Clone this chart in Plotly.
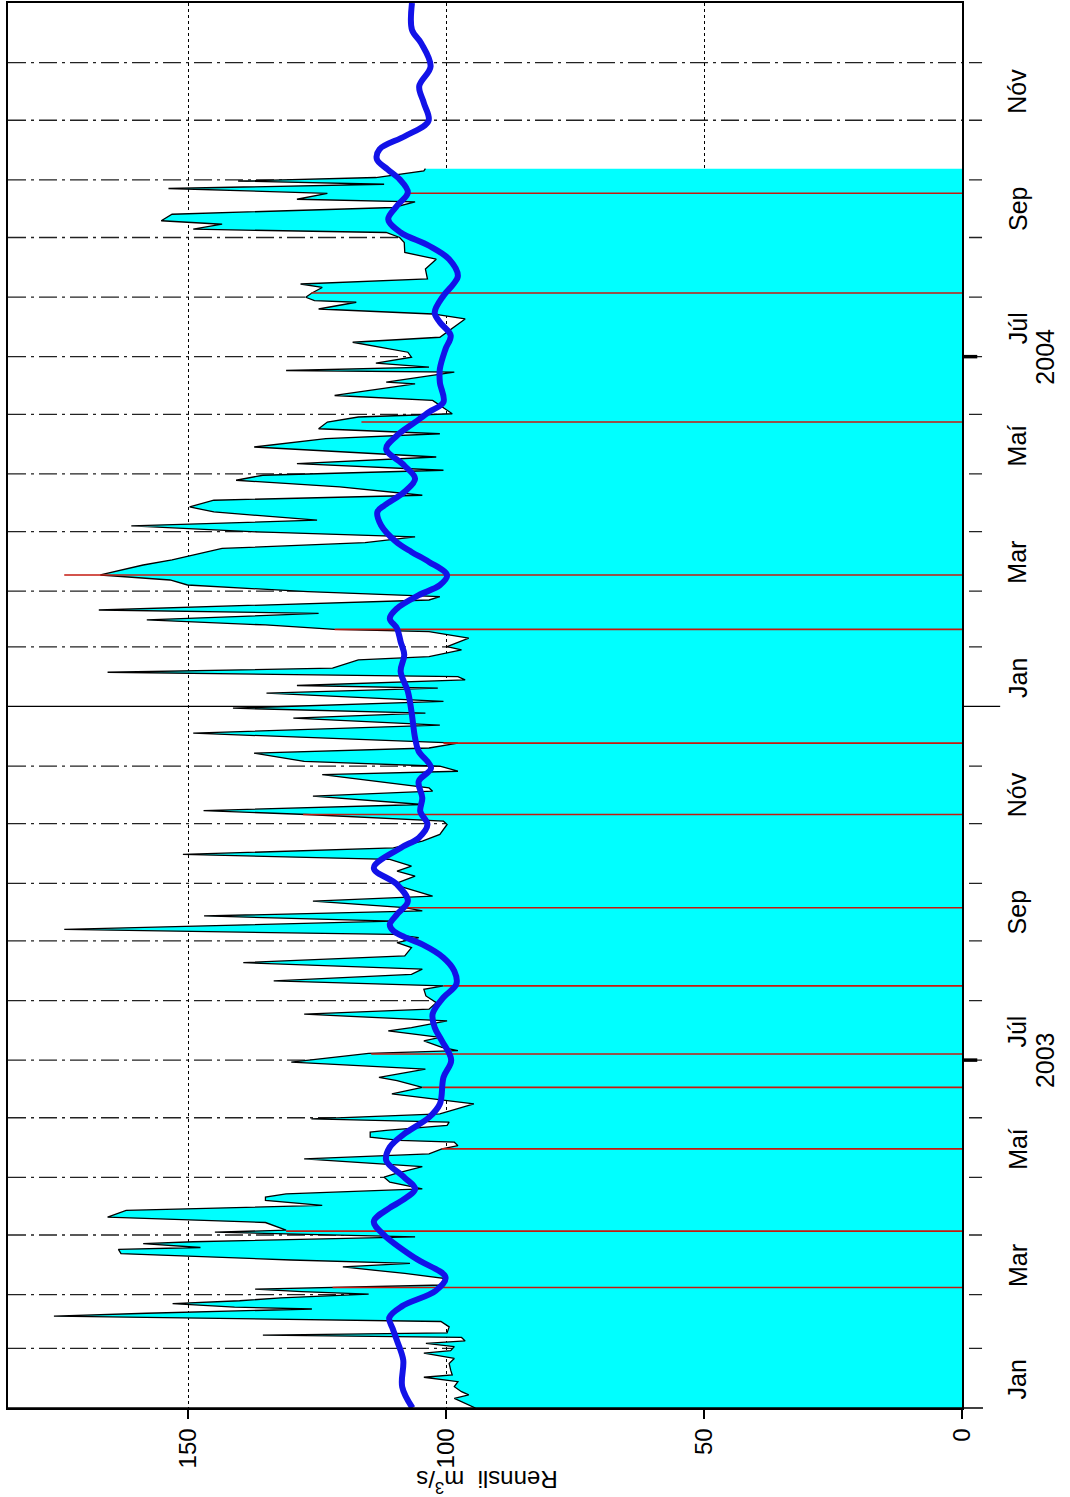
import pandas as pd
import plotly.graph_objects as go

START = pd.Timestamp("2003-01-01")
END = pd.Timestamp("2005-01-01")

# Daily discharge (m3/s): day offset from 2003-01-01 and value at each vertex
flow_day = [0, 2.4, 5, 6.8, 8.5, 11.1, 13.7, 16, 17.2, 19.7, 23.2, 25.8, 28.5, 29.8, 31.9, 33.6,
            34.9, 36.7, 37.9, 39.1, 42.2, 45, 47.8, 49.3, 50.5, 51.5, 52.5, 54.3, 55.8, 57.3, 59.2,
            60.5, 61.8, 62.7, 64, 67.5, 70, 73.4, 75.2, 77, 80.3, 82.5, 83.5, 85.5, 86.5, 89, 91.5,
            92.5, 95, 96.5, 99.3, 102.8, 105.4, 108, 109.7, 111.4, 114, 117.5, 120.1, 121.8, 125.6,
            129.6, 132.2, 134.8, 136.5, 138.3, 139.2, 140.9, 143.5, 144.4, 147, 148.7, 150.4, 153,
            158.2, 160, 163.4, 166.8, 170.3, 172, 176.3, 180, 184.5, 185.9, 187.6, 191, 192.8,
            196.2, 197.9, 201.4, 204.9, 207.5, 210.9, 214.4, 217.8, 219.6, 222.2, 225.6, 228.3,
            231.7, 235.2, 239.5, 242.1, 244.7, 246.4, 249, 253.3, 256, 258.6, 260.3, 263.7, 266.3,
            268.9, 272.4, 276.7, 279.3, 281.9, 285.4, 288, 291.4, 294.9, 298.4, 303.6, 305.3,
            308.8, 310.8, 314, 318.3, 320.9, 322.6, 329.5, 331.3, 333.9, 336.4, 340.7, 343.4,
            345.9, 351.1, 355.3, 358.9, 361.5, 364.1, 367.6, 371.9, 374.5, 375.9, 378.8, 380.5,
            382.8, 384.9, 389.2, 390.9, 394.4, 396.1, 400.5, 403.9, 405.1, 407.4, 410, 413.4,
            415.2, 420.4, 422.1, 424.7, 428.2, 430.8, 433.4, 438.6, 441.3, 444, 447.2, 450.2,
            453.2, 455.8, 459, 461.9, 466.2, 468.8, 472.3, 474.9, 479.2, 482.7, 485.3, 487.9,
            491.3, 494.8, 500, 504.3, 506.9, 509.5, 513, 515.6, 517.3, 524.2, 526.8, 532.8,
            533.7, 538.9, 539.8, 541.5, 543.6, 546.7, 549.3, 554.5, 557.1, 566.6, 569.2, 571.8,
            575.3, 576.1, 577.9, 580.1, 583, 584.8, 587.4, 592.6, 597.7, 601.2, 606.4, 609,
            611.6, 613.3, 615.9, 617.7, 621.1, 624.6, 627.5, 628.9, 632, 634.5, 636.7, 638.4,
            640.2, 643.6, 644.8]
flow_val = [94.3, 96.3, 98.4, 95.6, 97, 98.4, 97.7, 104.3, 98.8, 99.1, 99.4, 98.4, 104.3, 99.1, 98.4, 103.9,
            96.3, 97, 135.5, 99.8, 99.4, 101, 176, 158, 142, 126, 141, 153, 140, 132, 115,
            128, 137, 121, 100.5, 100.5, 108, 120, 107, 130, 163, 163.5, 147.6, 158.7, 149, 106, 144.8,
            131, 133.7, 135, 165.6, 162, 124, 135, 135, 131, 104.6, 110.9, 112, 110, 104.6,
            127.5, 103.3, 100.8, 97.7, 98.4, 109, 114.7, 114.7, 111.6, 99.8, 99.4, 126.1, 101.2,
            94.6, 100.5, 110.5, 104.6, 109.5, 113, 104, 130, 115, 97.7, 100.8, 104.3, 101.2,
            111.2, 106.7, 99.8, 127.5, 103.3, 101.9, 103.9, 104.3, 100.5, 133.4, 106.7, 104.6,
            139.3, 108, 106.7, 109.5, 105.3, 110.2, 174, 110.2, 146.9, 104.6, 108, 125.8, 102.6,
            106, 110.2, 106, 109.5, 106.7, 110.9, 151, 110.2, 104.6, 101.2, 99.8, 100.5,
            127, 147, 104.6, 125.8, 102.6, 103.3, 124, 97.7, 101.2, 127.5, 137.2, 103.3,
            97.7, 149, 101.2, 129.6, 104, 141.3, 100.5, 134.8, 101.6, 128.9, 96.3, 97.7,
            165.6, 122, 117, 103.3, 97, 99.8, 95.6, 103.3, 121.6, 135, 158, 124.7,
            167.3, 103.3, 101.2, 126.8, 150.1, 153.5, 167, 158.7, 153.1, 148.5, 143.4, 115.7,
            106, 136.5, 161, 125, 145, 149.7, 145, 104.6, 120.6, 140.7, 135.5, 100.5,
            128.9, 101.9, 137.2, 123.3, 101.2, 124.7, 123, 117, 98.8, 102.6, 121.6, 106,
            111.6, 98.4, 131, 103.3, 113.6, 106.7, 107.4, 118.1, 101.2, 96.3, 102.6, 124.7,
            117.4, 125.5, 127.2, 126, 124, 128.2, 103.6, 104, 101.9, 108, 108.1, 109,
            111.6, 149, 143.4, 155.2, 153.1, 110.2, 106, 128.9, 123, 153.8, 112, 140.3,
            113.6, 104.3, 104]

# Smoothed discharge
smooth_day = [0, 11, 25, 35, 41, 47, 53, 61, 68, 78, 90, 97, 104, 108, 114, 120, 128.8, 135.7,
              142.6, 151.2, 158.2, 172, 181, 191, 198, 205, 213.6, 220.5, 227.4, 234.3, 241.2,
              245, 248.2, 251.6, 256.8, 263.7, 272.4, 281, 291.4, 296.6, 303.6, 310.4, 317.4,
              326, 333, 341.6, 348.5, 362.4, 372.8, 383.2, 391.8, 398.7, 405.6, 410.8, 416,
              422.9, 428.1, 433.3, 440.2, 445.4, 451, 459.3, 466.2, 469.7, 476.6, 483.5, 490.4,
              499, 506, 512.9, 518.2, 523.3, 533.7, 540.6, 551, 558, 564.9, 570, 578.7, 585,
              589.1, 597.7, 604.7, 611.6, 618.5, 625.5, 632.4, 639.3, 644.4, 649.6, 654.9,
              661.8, 669.6, 679, 687.7, 698, 710, 717, 731]
smooth_val = [106.5, 108.5, 108.3, 109.5, 110.3, 111, 108.5, 102, 100.1, 106, 112, 114, 111, 108.5,
              106, 108.1, 111.6, 110.9, 108.1, 103.3, 101.2, 100.5, 99, 100.8, 102.2, 102.6,
              100.5, 98, 98.4, 100.5, 104.6, 108, 110.2, 110.9, 109.5, 107.4, 109.5, 114,
              108.8, 105.3, 103.6, 105, 104.6, 105.3, 102.9, 105.3, 106, 106.7, 107.4, 108.8,
              108.1, 108.8, 109.5, 110.9, 109.5, 105.3, 101.2, 99.8, 103.3, 106.7, 109.8,
              112.6, 113.3, 111.9, 108.1, 106, 108.1, 111.6, 109.5, 106, 103.3, 100.5, 101.2,
              101.2, 100.1, 99.1, 101.2, 102.2, 100.5, 98.5, 97.7, 99.4, 103.3, 108.8, 111.2,
              109.5, 107.4, 109, 111.3, 113.4, 112.9, 107.9, 103.4, 104.3, 105.2, 103, 104.8,
              106.6, 106.6]

# Event markers (red), drawn from zero up to the given discharge
event_day = [62.7, 92, 134.8, 166.8, 184.2, 219.6, 260.3, 308.8, 345.9, 405.1, 433.4, 513, 580.1, 632]
event_val = [122, 131, 100.8, 104.6, 114.5, 100.5, 108, 127.7, 100.5, 121.6, 174, 116.4, 126.1, 108]

flow_ticks = [0, 50, 100, 150]
month_labels = ["Jan", "Mar", "Maí", "Júl", "Sep", "Nóv"]
label_months = [1, 3, 5, 7, 9, 11]
years = [2003, 2004]


def to_dates(days):
    return list(START + pd.to_timedelta(days, unit="D"))


FONT = "Liberation Sans, Arial, sans-serif"
fig = go.Figure()

fig.add_trace(go.Scatter(
    x=flow_val, y=to_dates(flow_day), mode="lines", fill="tozerox",
    fillcolor="#00ffff", line=dict(color="black", width=1.3), showlegend=False))

ex, ey = [], []
for d, v in zip(event_day, event_val):
    t = START + pd.Timedelta(days=d)
    ex += [0, v, None]
    ey += [t, t, None]
fig.add_trace(go.Scatter(x=ex, y=ey, mode="lines",
                         line=dict(color="#c41a10", width=1.6), showlegend=False))

fig.add_trace(go.Scatter(
    x=smooth_val, y=to_dates(smooth_day), mode="lines",
    line=dict(color="#1212e8", width=6, shape="spline", smoothing=1.0), showlegend=False))

shapes = []
for m in pd.date_range("2003-02-01", "2004-12-01", freq="MS"):
    if m == pd.Timestamp("2004-01-01"):
        shapes.append(dict(type="line", xref="paper", yref="y", x0=0, x1=1.04, y0=m, y1=m,
                           line=dict(color="black", width=1.2), layer="below"))
    else:
        shapes.append(dict(type="line", xref="paper", yref="y", x0=0, x1=1.021, y0=m, y1=m,
                           line=dict(color="#222", width=1.3, dash="18px,5px,3px,5px"),
                           layer="below"))
for y in years:
    jul = pd.Timestamp(f"{y}-07-01")
    shapes.append(dict(type="line", xref="paper", yref="y", x0=1.0, x1=1.016, y0=jul, y1=jul,
                       line=dict(color="black", width=3.5)))
shapes.append(dict(type="line", xref="paper", yref="paper", x0=0, x1=1.022, y0=0, y1=0,
                   line=dict(color="black", width=1.6)))

annotations = []
for y in years:
    for m, lab in zip(label_months, month_labels):
        annotations.append(dict(
            x=1.058, xref="paper", y=pd.Timestamp(f"{y}-{m:02d}-16"), yref="y",
            text=lab, showarrow=False, textangle=-90, xanchor="center", yanchor="middle",
            font=dict(family=FONT, size=25, color="black")))
    annotations.append(dict(
        x=1.087, xref="paper", y=pd.Timestamp(f"{y}-07-01"), yref="y",
        text=str(y), showarrow=False, textangle=-90, xanchor="center", yanchor="middle",
        font=dict(family=FONT, size=25, color="black")))
annotations.append(dict(
    x=92, xref="x", y=-0.0525, yref="paper", text="Rennsli  m<sup>3</sup>/s",
    showarrow=False, textangle=180, xanchor="center", yanchor="middle",
    font=dict(family=FONT, size=24, color="black")))

fig.update_layout(
    width=1070, height=1497,
    margin=dict(l=8, r=108, t=1, b=89),
    paper_bgcolor="white", plot_bgcolor="white",
    shapes=shapes, annotations=annotations,
    xaxis=dict(range=[184.9, 0], tickvals=flow_ticks, ticktext=[str(v) for v in flow_ticks],
               tickangle=-90, ticks="outside", ticklen=9, tickwidth=1.5, tickcolor="black",
               showgrid=True, gridcolor="black", gridwidth=1.2, griddash="dot",
               zeroline=False, showline=True, mirror=True, linecolor="black", linewidth=1.6,
               tickfont=dict(family=FONT, size=24, color="black")),
    yaxis=dict(type="date", range=[START, END], showticklabels=False, ticks="",
               showgrid=False, zeroline=False, showline=True, mirror=True,
               linecolor="black", linewidth=1.6),
)

fig.write_html("out.html")
